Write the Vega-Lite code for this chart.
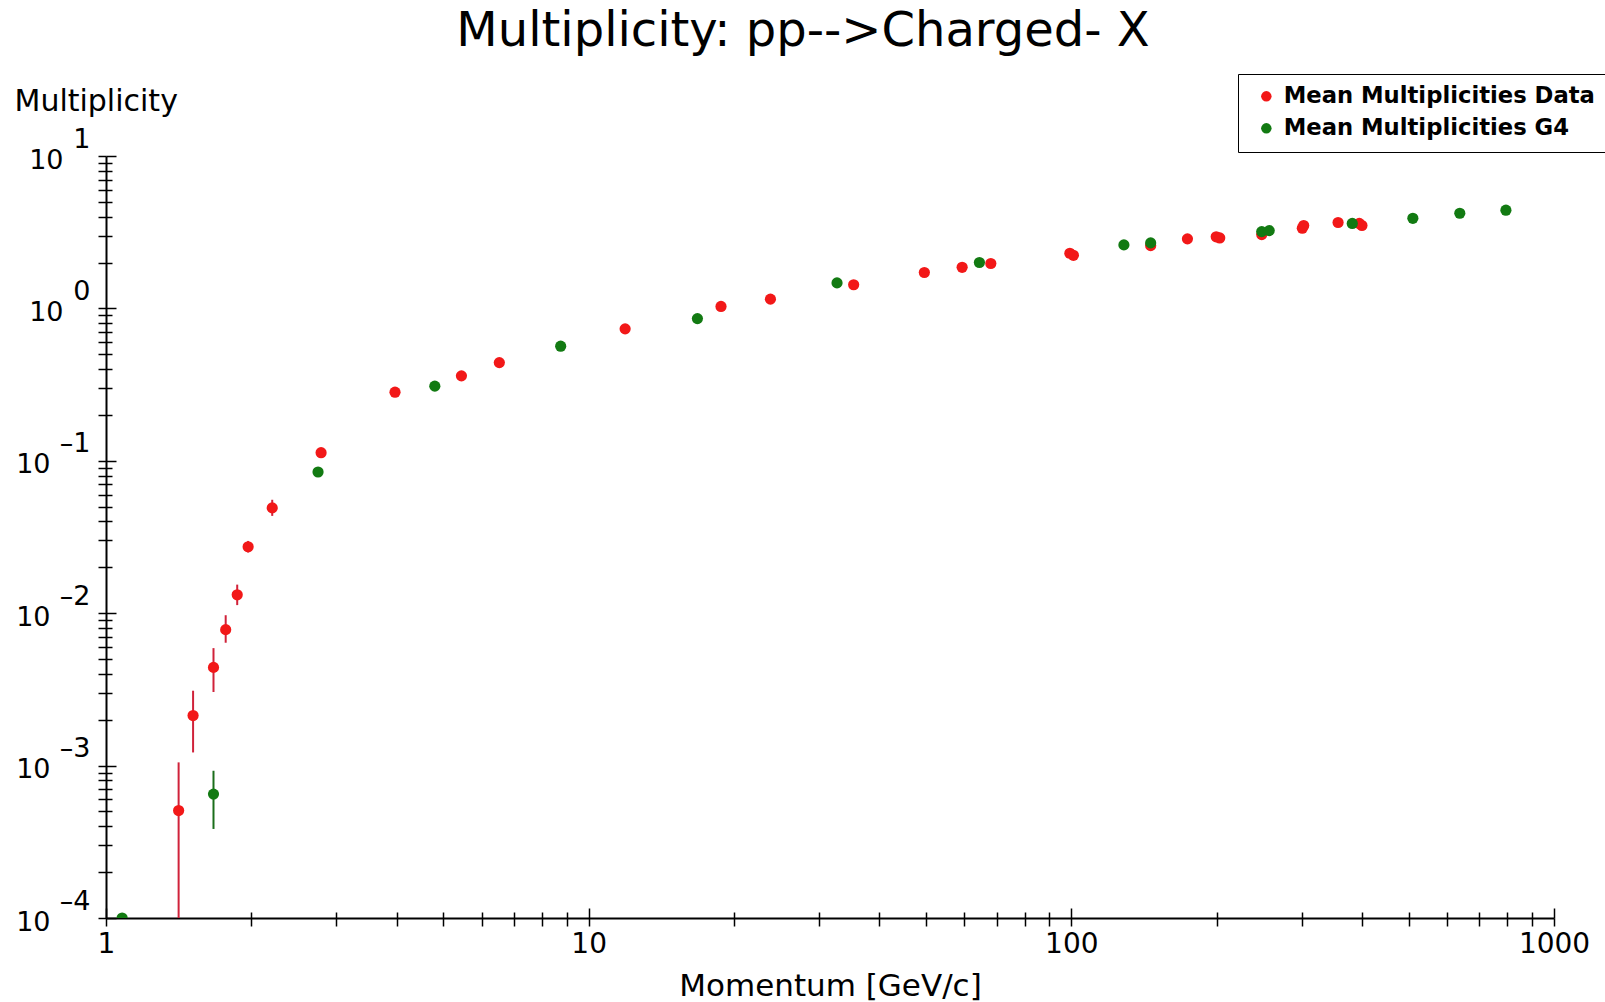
{
  "$schema": "https://vega.github.io/schema/vega-lite/v6.json",
  "width": 1448,
  "height": 762,
  "autosize": {"type": "none"},
  "padding": {"left": 106, "top": 156, "right": 51, "bottom": 84},
  "background": "white",
  "title": {
    "text": "Multiplicity: pp-->Charged- X",
    "font": "DejaVu Sans",
    "fontSize": 48,
    "fontWeight": "normal",
    "color": "#000000",
    "anchor": "middle",
    "frame": "group",
    "dx": -27,
    "dy": 20,
    "offset": 0,
    "baseline": "alphabetic"
  },
  "config": {
    "view": {"stroke": null},
    "font": "DejaVu Sans"
  },
  "datasets": {
    "pts": [
      {"series": "Mean Multiplicities Data", "p": 1.414, "m": 0.000507, "lo": 0.00005, "hi": 0.00105},
      {"series": "Mean Multiplicities Data", "p": 1.515, "m": 0.00213, "lo": 0.00122, "hi": 0.0031},
      {"series": "Mean Multiplicities Data", "p": 1.67, "m": 0.00441, "lo": 0.00304, "hi": 0.0059},
      {"series": "Mean Multiplicities Data", "p": 1.77, "m": 0.0078, "lo": 0.0064, "hi": 0.0097},
      {"series": "Mean Multiplicities Data", "p": 1.87, "m": 0.0132, "lo": 0.0113, "hi": 0.0154},
      {"series": "Mean Multiplicities Data", "p": 1.97, "m": 0.0273, "lo": 0.025, "hi": 0.0298},
      {"series": "Mean Multiplicities Data", "p": 2.21, "m": 0.0491, "lo": 0.0435, "hi": 0.0555},
      {"series": "Mean Multiplicities Data", "p": 2.79, "m": 0.113, "lo": 0.106, "hi": 0.12},
      {"series": "Mean Multiplicities Data", "p": 3.97, "m": 0.282, "lo": null, "hi": null},
      {"series": "Mean Multiplicities Data", "p": 5.45, "m": 0.361, "lo": null, "hi": null},
      {"series": "Mean Multiplicities Data", "p": 6.53, "m": 0.441, "lo": null, "hi": null},
      {"series": "Mean Multiplicities Data", "p": 11.9, "m": 0.734, "lo": null, "hi": null},
      {"series": "Mean Multiplicities Data", "p": 18.8, "m": 1.03, "lo": null, "hi": null},
      {"series": "Mean Multiplicities Data", "p": 23.8, "m": 1.15, "lo": null, "hi": null},
      {"series": "Mean Multiplicities Data", "p": 35.4, "m": 1.43, "lo": null, "hi": null},
      {"series": "Mean Multiplicities Data", "p": 49.6, "m": 1.72, "lo": null, "hi": null},
      {"series": "Mean Multiplicities Data", "p": 59.4, "m": 1.86, "lo": null, "hi": null},
      {"series": "Mean Multiplicities Data", "p": 68.1, "m": 1.97, "lo": null, "hi": null},
      {"series": "Mean Multiplicities Data", "p": 99.3, "m": 2.3, "lo": null, "hi": null},
      {"series": "Mean Multiplicities Data", "p": 101, "m": 2.23, "lo": null, "hi": null},
      {"series": "Mean Multiplicities Data", "p": 146, "m": 2.58, "lo": null, "hi": null},
      {"series": "Mean Multiplicities Data", "p": 174, "m": 2.86, "lo": null, "hi": null},
      {"series": "Mean Multiplicities Data", "p": 199.6, "m": 2.95, "lo": null, "hi": null},
      {"series": "Mean Multiplicities Data", "p": 203, "m": 2.9, "lo": null, "hi": null},
      {"series": "Mean Multiplicities Data", "p": 248, "m": 3.05, "lo": null, "hi": null},
      {"series": "Mean Multiplicities Data", "p": 301, "m": 3.36, "lo": null, "hi": null},
      {"series": "Mean Multiplicities Data", "p": 303, "m": 3.5, "lo": null, "hi": null},
      {"series": "Mean Multiplicities Data", "p": 357, "m": 3.66, "lo": null, "hi": null},
      {"series": "Mean Multiplicities Data", "p": 395, "m": 3.61, "lo": null, "hi": null},
      {"series": "Mean Multiplicities Data", "p": 400, "m": 3.5, "lo": null, "hi": null},
      {"series": "Mean Multiplicities G4", "p": 1.08, "m": 0.0001, "lo": null, "hi": null},
      {"series": "Mean Multiplicities G4", "p": 1.67, "m": 0.00065, "lo": 0.000384, "hi": 0.000925},
      {"series": "Mean Multiplicities G4", "p": 2.75, "m": 0.0844, "lo": null, "hi": null},
      {"series": "Mean Multiplicities G4", "p": 4.8, "m": 0.309, "lo": null, "hi": null},
      {"series": "Mean Multiplicities G4", "p": 8.75, "m": 0.565, "lo": null, "hi": null},
      {"series": "Mean Multiplicities G4", "p": 16.8, "m": 0.857, "lo": null, "hi": null},
      {"series": "Mean Multiplicities G4", "p": 32.7, "m": 1.47, "lo": null, "hi": null},
      {"series": "Mean Multiplicities G4", "p": 64.5, "m": 2.0, "lo": null, "hi": null},
      {"series": "Mean Multiplicities G4", "p": 128.5, "m": 2.61, "lo": null, "hi": null},
      {"series": "Mean Multiplicities G4", "p": 146, "m": 2.69, "lo": null, "hi": null},
      {"series": "Mean Multiplicities G4", "p": 248, "m": 3.19, "lo": null, "hi": null},
      {"series": "Mean Multiplicities G4", "p": 257, "m": 3.24, "lo": null, "hi": null},
      {"series": "Mean Multiplicities G4", "p": 382, "m": 3.61, "lo": null, "hi": null},
      {"series": "Mean Multiplicities G4", "p": 510, "m": 3.9, "lo": null, "hi": null},
      {"series": "Mean Multiplicities G4", "p": 638, "m": 4.21, "lo": null, "hi": null},
      {"series": "Mean Multiplicities G4", "p": 795, "m": 4.41, "lo": null, "hi": null}
    ]
  },
  "data": {"name": "pts"},
  "resolve": {"axis": {"x": "independent", "y": "independent"}},
  "layer": [
    {
      "transform": [{"filter": "datum.lo != null"}],
      "mark": {"type": "rule", "strokeWidth": 2, "clip": true},
      "encoding": {
        "x": {
          "field": "p",
          "type": "quantitative",
          "scale": {"type": "log", "domain": [1, 1000]},
          "axis": {
            "orient": "bottom",
            "values": [1,2,3,4,5,6,7,8,9,10,20,30,40,50,60,70,80,90,100,200,300,400,500,600,700,800,900,1000],
            "labels": false,
            "domain": false,
            "grid": false,
            "tickSize": {"condition": {"test": "datum.value==1||datum.value==10||datum.value==100||datum.value==1000", "value": -10}, "value": -6},
            "tickColor": "#000000",
            "tickWidth": 1.5,
            "title": null
          }
        },
        "y": {
          "field": "lo",
          "type": "quantitative",
          "scale": {"type": "log", "domain": [0.0001, 10]},
          "axis": {
            "orient": "left",
            "values": [0.0001,0.0002,0.0003,0.0004,0.0005,0.0006,0.0007,0.0008,0.0009,0.001,0.002,0.003,0.004,0.005,0.006,0.007,0.008,0.009,0.01,0.02,0.03,0.04,0.05,0.06,0.07,0.08,0.09,0.1,0.2,0.3,0.4,0.5,0.6,0.7,0.8,0.9,1,2,3,4,5,6,7,8,9,10],
            "labelExpr": "datum.value==10?'1':datum.value==1?'0':datum.value==0.1?'–1':datum.value==0.01?'–2':datum.value==0.001?'–3':datum.value==0.0001?'–4':''",
            "labelOverlap": false,
            "labelFontSize": 27,
            "labelFont": "DejaVu Sans",
            "labelColor": "#000000",
            "labelAlign": "right",
            "labelOffset": -17,
            "labelPadding": 26,
            "domain": false,
            "grid": false,
            "tickSize": {"condition": {"test": "datum.value==10||datum.value==1||datum.value==0.1||datum.value==0.01||datum.value==0.001||datum.value==0.0001", "value": -10}, "value": -6},
            "tickColor": "#000000",
            "tickWidth": 1.5,
            "title": null
          }
        },
        "y2": {"field": "hi"},
        "stroke": {
          "condition": {"test": "datum.series == 'Mean Multiplicities Data'", "value": "#d0223a"},
          "value": "#1b6e1b"
        }
      }
    },
    {
      "mark": {"type": "point", "filled": true, "shape": "circle", "size": 125, "opacity": 1, "clip": true},
      "encoding": {
        "x": {
          "field": "p",
          "type": "quantitative",
          "scale": {"type": "log", "domain": [1, 1000]},
          "axis": {
            "orient": "bottom",
            "values": [1,2,3,4,5,6,7,8,9,10,20,30,40,50,60,70,80,90,100,200,300,400,500,600,700,800,900,1000],
            "labelExpr": "datum.value==1?'1':datum.value==10?'10':datum.value==100?'100':datum.value==1000?'1000':''",
            "labelOverlap": false,
            "labelFlush": false,
            "labelFontSize": 28,
            "labelFont": "DejaVu Sans",
            "labelColor": "#000000",
            "labelPadding": 4,
            "tickSize": 8,
            "tickColor": "#000000",
            "tickWidth": 1.5,
            "domainColor": "#000000",
            "domainWidth": 2,
            "grid": false,
            "title": "Momentum [GeV/c]",
            "titleFont": "DejaVu Sans",
            "titleFontSize": 31,
            "titleFontWeight": "normal",
            "titleColor": "#000000",
            "titleBaseline": "alphabetic",
            "titleY": 77
          }
        },
        "y": {
          "field": "m",
          "type": "quantitative",
          "scale": {"type": "log", "domain": [0.0001, 10]},
          "axis": {
            "orient": "left",
            "values": [0.0001,0.0002,0.0003,0.0004,0.0005,0.0006,0.0007,0.0008,0.0009,0.001,0.002,0.003,0.004,0.005,0.006,0.007,0.008,0.009,0.01,0.02,0.03,0.04,0.05,0.06,0.07,0.08,0.09,0.1,0.2,0.3,0.4,0.5,0.6,0.7,0.8,0.9,1,2,3,4,5,6,7,8,9,10],
            "labelExpr": "datum.value==10||datum.value==1||datum.value==0.1||datum.value==0.01||datum.value==0.001||datum.value==0.0001?'10':''",
            "labelOverlap": false,
            "labelFontSize": 27,
            "labelFont": "DejaVu Sans",
            "labelColor": "#000000",
            "labelAlign": "right",
            "labelOffset": 4,
            "labelPadding": {"condition": {"test": "datum.value >= 1", "value": 35}, "value": 48},
            "tickSize": 8,
            "tickColor": "#000000",
            "tickWidth": 1.5,
            "domainColor": "#000000",
            "domainWidth": 2,
            "grid": false,
            "title": "Multiplicity",
            "titleFont": "DejaVu Sans",
            "titleFontSize": 30,
            "titleFontWeight": "normal",
            "titleColor": "#000000",
            "titleAngle": 0,
            "titleAlign": "left",
            "titleBaseline": "alphabetic",
            "titleX": -92,
            "titleY": -46
          }
        },
        "color": {
          "field": "series",
          "type": "nominal",
          "scale": {"domain": ["Mean Multiplicities Data", "Mean Multiplicities G4"], "range": ["#f21818", "#127a12"]},
          "legend": {
            "title": null,
            "orient": "none",
            "legendX": 1132,
            "legendY": -82,
            "strokeColor": "#000000",
            "fillColor": "white",
            "padding": 11,
            "labelFont": "DejaVu Sans",
            "labelFontSize": 22.7,
            "labelFontWeight": "bold",
            "labelColor": "#000000",
            "labelOffset": 6,
            "symbolType": "circle",
            "symbolSize": 110,
            "symbolOffset": 6,
            "symbolStrokeWidth": 0,
            "rowPadding": 8,
            "labelLimit": 400,
            "encode": {"legend": {"update": {"strokeWidth": {"value": 1.5}}}}
          }
        }
      }
    }
  ]
}
